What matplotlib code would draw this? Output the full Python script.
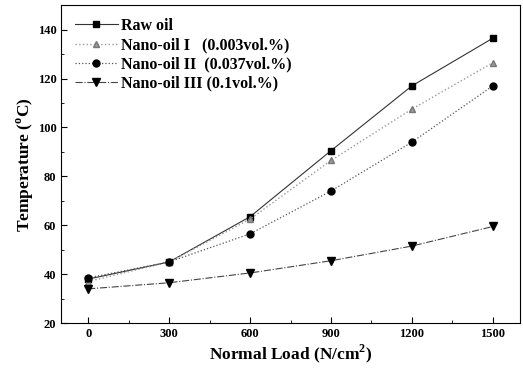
import matplotlib
matplotlib.use("Agg")
import matplotlib.pyplot as plt
from matplotlib.ticker import MultipleLocator

plt.rcParams['font.family'] = ['Liberation Serif', 'DejaVu Serif']
plt.rcParams['font.weight'] = 'bold'
plt.rcParams['mathtext.fontset'] = 'custom'
plt.rcParams['mathtext.rm'] = 'Liberation Serif:bold'
plt.rcParams['mathtext.bf'] = 'Liberation Serif:bold'

# data
load = [0, 300, 600, 900, 1200, 1500]
raw_oil = [38, 45, 63.5, 90.5, 117, 136.5]
nano_1 = [37, 45, 62.5, 86.5, 107.5, 126.5]
nano_2 = [38.5, 45, 56.5, 74, 94, 117]
nano_3 = [34, 36.5, 40.5, 45.5, 51.5, 59.5]

fig = plt.figure(figsize=(5.23, 3.68), dpi=100)
ax = fig.add_axes([0.117, 0.122, 0.877, 0.864])

ax.plot(load, raw_oil, '-', color='#333333', lw=0.8, marker='s', ms=4.5,
        mfc='black', mec='black', label='Raw oil')
ax.plot(load, nano_1, ':', color='#999999', lw=1.0, marker='^', ms=5,
        mfc='#999999', mec='#777777', label='Nano-oil I   (0.003vol.%)')
ax.plot(load, nano_2, ':', color='#555555', lw=0.9, marker='o', ms=5,
        mfc='black', mec='black', label='Nano-oil II  (0.037vol.%)')
ax.plot(load, nano_3, '-.', color='#444444', lw=0.8, marker='v', ms=6,
        mfc='black', mec='black', label='Nano-oil III (0.1vol.%)')

ax.set_xlim(-100, 1600)
ax.set_ylim(20, 150)
ax.set_xticks(load)
ax.set_yticks([20, 40, 60, 80, 100, 120, 140])
ax.xaxis.set_minor_locator(MultipleLocator(150))
ax.yaxis.set_minor_locator(MultipleLocator(10))
ax.tick_params(which='both', direction='in', labelsize=9)
ax.tick_params(which='major', length=4)
ax.tick_params(which='minor', length=2.5)
for lab in ax.get_xticklabels() + ax.get_yticklabels():
    lab.set_fontweight('bold')

ax.set_xlabel('Normal Load (N/cm$^\\mathrm{2}$)', fontsize=12.5, fontweight='bold', labelpad=2)
ax.set_ylabel('Temperature ($^\\mathrm{o}$C)', fontsize=12.5, fontweight='bold', labelpad=1)

leg = ax.legend(loc='upper left', frameon=False, handlelength=2.7,
                handletextpad=0.2, labelspacing=0.2, borderaxespad=0.3,
                bbox_to_anchor=(0.005, 0.995),
                prop={'weight': 'bold', 'size': 11.5})

plt.savefig("out.png", dpi=100)
plt.close()
